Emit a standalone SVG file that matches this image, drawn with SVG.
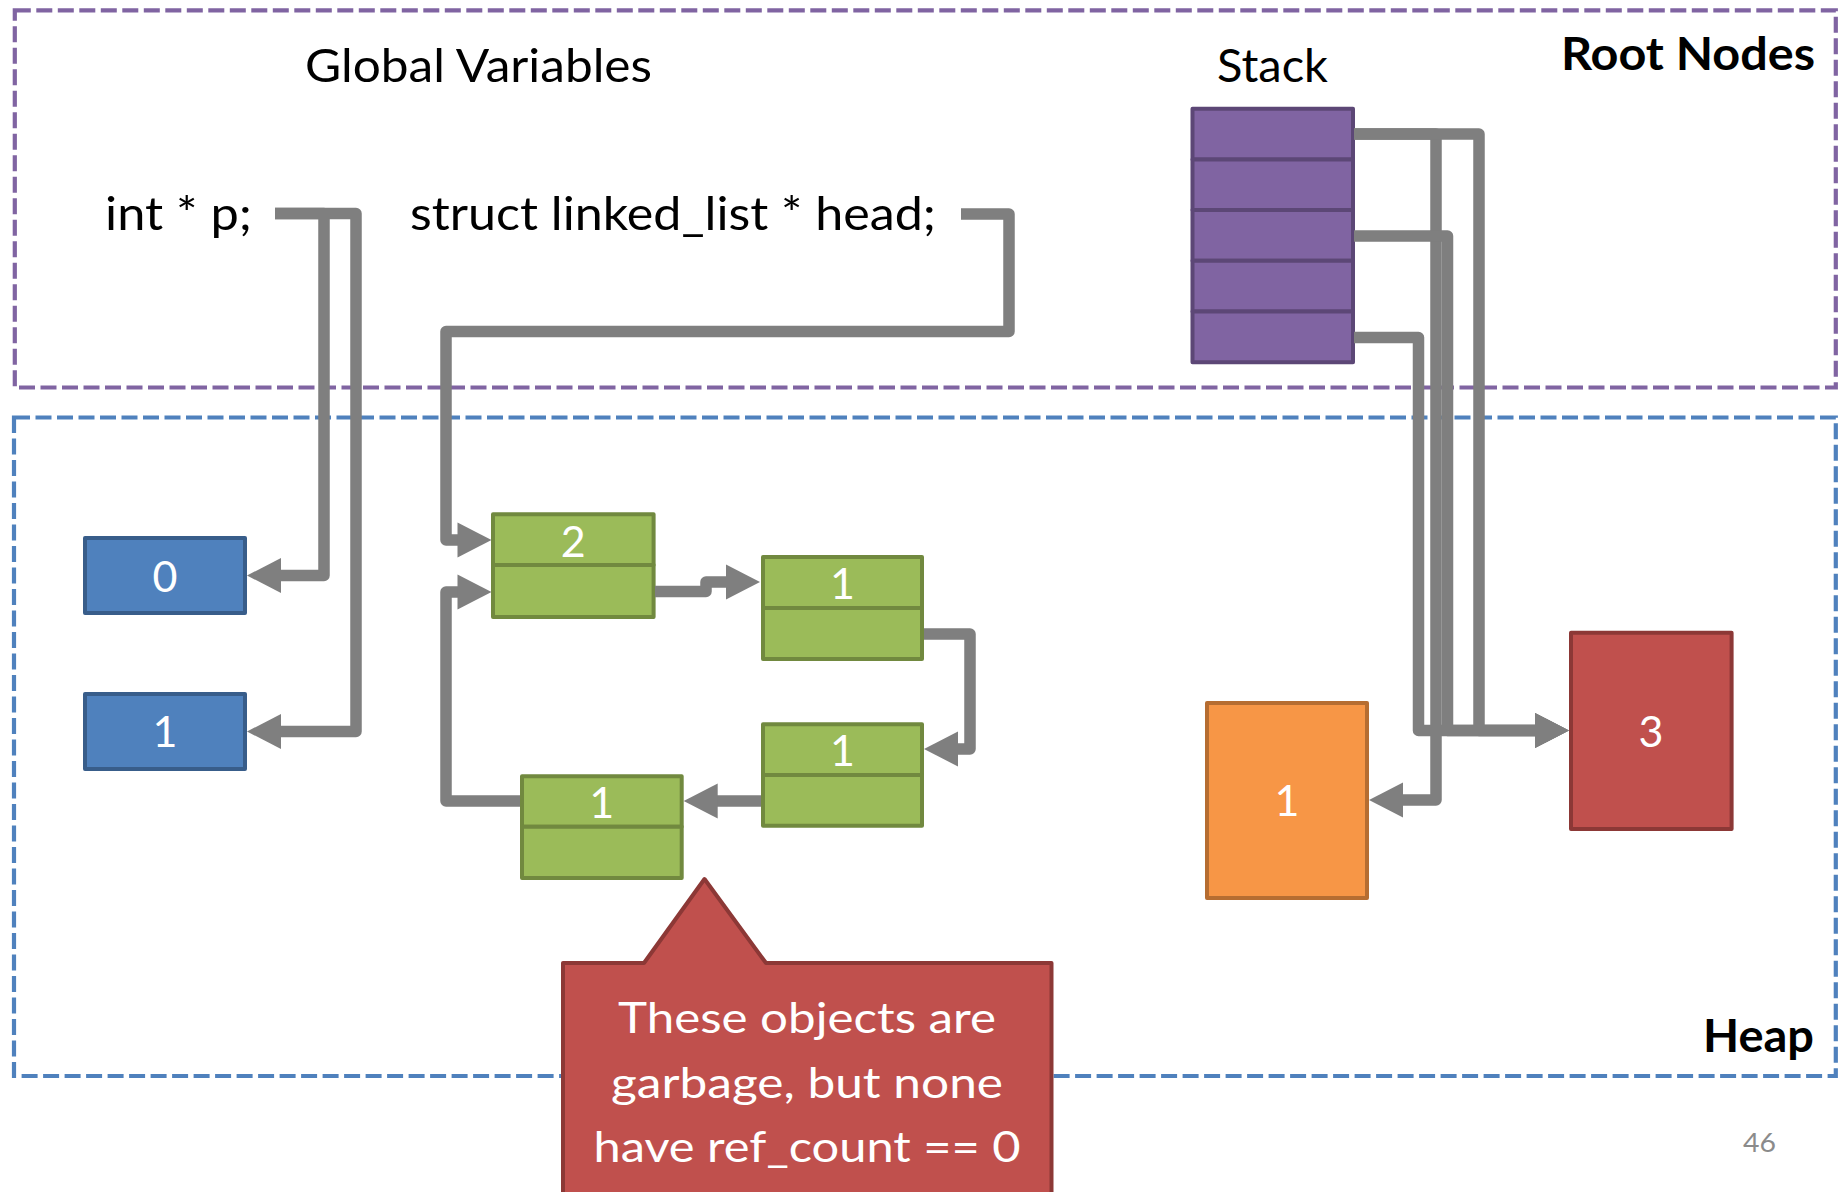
<svg xmlns="http://www.w3.org/2000/svg" width="1847" height="1192" viewBox="0 0 1847 1192">
  <defs>
    <style>
      .txt { font-family: Lato, "Open Sans", "Liberation Sans", sans-serif; fill: #000; }
      .bold { font-weight: bold; }
      .num { font-family: Lato, "Open Sans", "Liberation Sans", sans-serif; font-size: 43px; fill: #fff; text-anchor: middle; }
      .region { fill: none; stroke-width: 4.2; stroke-dasharray: 16 5.5; }
      .conn { fill: none; stroke: #7F7F7F; stroke-width: 11.5; stroke-linejoin: round; stroke-linecap: butt; }
      .arr { marker-end: url(#head); }
      .blue { fill: #4F81BD; stroke: #385D8A; stroke-width: 4; stroke-linejoin: round; }
      .green { fill: #9BBB59; stroke: #71893F; stroke-width: 4; stroke-linejoin: round; }
      .purple { fill: #8064A2; stroke: #5C4776; stroke-width: 4; stroke-linejoin: round; }
      .orange { fill: #F79646; stroke: #B66D31; stroke-width: 4; stroke-linejoin: round; }
      .red { fill: #C0504D; stroke: #8C3836; stroke-width: 4; stroke-linejoin: round; }
    </style>
    <marker id="head" markerUnits="userSpaceOnUse" markerWidth="36" markerHeight="36" refX="1" refY="17.5" orient="auto" overflow="visible">
      <path d="M0,0 L34,17.5 L0,35 Z" fill="#7F7F7F"/>
    </marker>
  </defs>

  <rect width="1847" height="1192" fill="#fff"/>

  <!-- regions -->
  <g id="root-nodes-region">
    <rect class="region" x="14.8" y="10.3" width="1821" height="377.2" stroke="#8064A2"/>
    <text class="txt bold" x="1561" y="70" font-size="46.5" textLength="254" lengthAdjust="spacingAndGlyphs">Root Nodes</text>
  </g>
  <g id="heap-region">
    <rect class="region" x="14" y="417.5" width="1821.8" height="658.5" stroke="#4F81BD"/>
    <text class="txt bold" x="1703" y="1052" font-size="46" textLength="111" lengthAdjust="spacingAndGlyphs">Heap</text>
  </g>

  <!-- root labels -->
  <g id="globals">
    <text class="txt" x="305" y="82" font-size="47" textLength="347" lengthAdjust="spacingAndGlyphs">Global Variables</text>
  </g>
  <g id="var-p">
    <text class="txt" x="105" y="230" font-size="47" textLength="147" lengthAdjust="spacingAndGlyphs">int * p;</text>
  </g>
  <g id="var-head">
    <text class="txt" x="410" y="230" font-size="47" textLength="526" lengthAdjust="spacingAndGlyphs">struct linked_list * head;</text>
  </g>

  <!-- stack frames -->
  <g id="stack">
    <text class="txt" x="1217" y="82" font-size="47" textLength="111" lengthAdjust="spacingAndGlyphs">Stack</text>
    <rect class="purple" x="1192.5" y="108.7" width="160.5" height="50.7"/>
    <rect class="purple" x="1192.5" y="159.4" width="160.5" height="50.7"/>
    <rect class="purple" x="1192.5" y="210.1" width="160.5" height="50.7"/>
    <rect class="purple" x="1192.5" y="260.8" width="160.5" height="50.7"/>
    <rect class="purple" x="1192.5" y="311.5" width="160.5" height="50.7"/>
  </g>

  <!-- heap objects -->
  <g id="int-0">
    <rect class="blue" x="85" y="538" width="160" height="75"/>
    <text class="num" x="165" y="591.5">0</text>
  </g>
  <g id="int-1">
    <rect class="blue" x="85" y="694" width="160" height="75"/>
    <text class="num" x="165" y="747">1</text>
  </g>

  <g id="node-a">
    <rect class="green" x="493" y="514.3" width="160.6" height="50.7"/>
    <rect class="green" x="493" y="565" width="160.6" height="52"/>
    <text class="num" x="573.3" y="556.5">2</text>
  </g>
  <g id="node-b">
    <rect class="green" x="763" y="557" width="159" height="51"/>
    <rect class="green" x="763" y="608" width="159" height="51"/>
    <text class="num" x="842.5" y="599.3">1</text>
  </g>
  <g id="node-c">
    <rect class="green" x="763" y="724.3" width="159" height="50.7"/>
    <rect class="green" x="763" y="775" width="159" height="50.7"/>
    <text class="num" x="842.5" y="766.3">1</text>
  </g>
  <g id="node-d">
    <rect class="green" x="522" y="776.3" width="159.7" height="50.4"/>
    <rect class="green" x="522" y="826.7" width="159.7" height="51.3"/>
    <text class="num" x="601.8" y="818">1</text>
  </g>

  <g id="obj-orange">
    <rect class="orange" x="1207" y="703" width="160" height="195"/>
    <text class="num" x="1287" y="816">1</text>
  </g>
  <g id="obj-red">
    <rect class="red" x="1571" y="632.7" width="160.6" height="196.3"/>
    <text class="num" x="1651" y="746.5">3</text>
  </g>

  <!-- pointers -->
  <g id="connectors">
    <path class="conn arr" d="M275,213.5 H324 V575.5 H280"/>
    <path class="conn arr" d="M275,213.5 H356 V731.5 H280"/>
    <path class="conn arr" d="M961,214 H1009 V331.5 H446 V540 H458.5"/>
    <path class="conn arr" d="M520,801 H446 V592 H458.5"/>
    <path class="conn arr" d="M655,591.5 H706 V582 H727"/>
    <path class="conn arr" d="M924,634 H970 V749 H957"/>
    <path class="conn arr" d="M761,801 H716.7"/>
    <path class="conn arr" d="M1354,134 H1436 V800 H1402"/>
    <path class="conn arr" d="M1354,134 H1479 V730.5 H1536"/>
    <path class="conn arr" d="M1354,236 H1447.5 V730.5 H1536"/>
    <path class="conn arr" d="M1354,337.5 H1418.5 V730.5 H1536"/>
  </g>

  <!-- annotation callout -->
  <g id="callout">
    <path class="red" d="M563,963 H644 L704.5,879 L766,963 H1051.5 V1200 H563 Z"/>
    <text class="num" x="807" y="1033" font-size="44" textLength="378" lengthAdjust="spacingAndGlyphs">These objects are</text>
    <text class="num" x="807" y="1098" font-size="44" textLength="392" lengthAdjust="spacingAndGlyphs">garbage, but none</text>
    <text class="num" x="807" y="1162" font-size="44" textLength="427" lengthAdjust="spacingAndGlyphs">have ref_count == 0</text>
  </g>

  <g id="page-number">
    <text class="txt" x="1743" y="1152" font-size="26.5" style="fill:#8B8B8B" textLength="33" lengthAdjust="spacingAndGlyphs">46</text>
  </g>
</svg>
